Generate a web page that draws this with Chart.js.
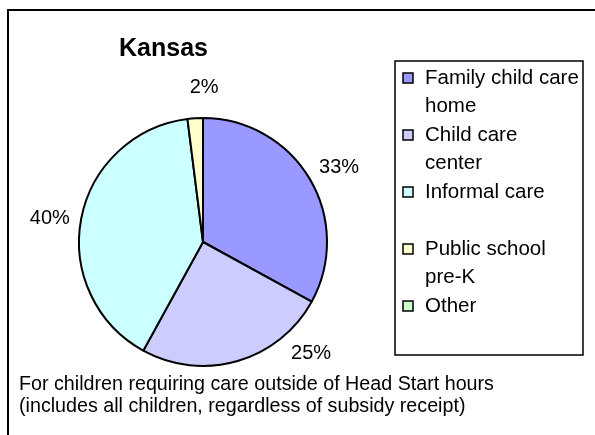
<!DOCTYPE html>
<html>
<head>
<meta charset="utf-8">
<script src="https://cdn.jsdelivr.net/npm/chart.js@4"></script>
<style>
  html, body { margin: 0; padding: 0; background: #fff; }
  canvas { display: block; }
</style>
</head>
<body>
<canvas id="chart" width="595" height="435"></canvas>
<script>
// data
const categories = ['Family child care home', 'Child care center', 'Informal care', 'Public school pre-K', 'Other'];
const shares = [33, 25, 40, 2, 0];
const colors = ['#9999FF', '#CCCCFF', '#CCFFFF', '#FFFFCC', '#CCFFCC'];
// legend text wrapped like the original
const legendLines = [['Family child care', 'home'], ['Child care', 'center'], ['Informal care'], ['Public school', 'pre-K'], ['Other']];
const chartTitle = 'Kansas';
const footnote = ['For children requiring care outside of Head Start hours', '(includes all children, regardless of subsidy receipt)'];

const FONT = '"Liberation Sans", Arial, sans-serif';
// label angle nudges (deg), mimics Excel best-fit placement
const labelNudge = [2, -28, -2, 4, 0];

const decorPlugin = {
    id: 'decor',
    afterDraw(chart) {
        const ctx = chart.ctx;
        ctx.save();

        // outer frame (left + top only, rest is cropped)
        ctx.strokeStyle = '#000';
        ctx.lineWidth = 2;
        ctx.beginPath();
        ctx.moveTo(8, 435);
        ctx.lineTo(8, 10);
        ctx.lineTo(595, 10);
        ctx.stroke();

        // title
        ctx.fillStyle = '#000';
        ctx.font = 'bold 25px ' + FONT;
        ctx.textAlign = 'left';
        ctx.textBaseline = 'middle';
        ctx.fillText(chartTitle, 119, 49);

        // percentage labels
        const meta = chart.getDatasetMeta(0);
        ctx.font = '20px ' + FONT;
        ctx.textAlign = 'center';
        meta.data.forEach((arc, i) => {
            const v = shares[i];
            if (!v) return;
            const p = arc.getProps(['x', 'y', 'startAngle', 'endAngle', 'outerRadius'], true);
            const mid = (p.startAngle + p.endAngle) / 2 + labelNudge[i] * Math.PI / 180;
            const r = p.outerRadius + 31;
            ctx.fillText(v + '%', p.x + Math.cos(mid) * r, p.y + Math.sin(mid) * r);
        });

        // legend box
        ctx.lineWidth = 1.5;
        ctx.strokeRect(395, 61, 188, 294);
        ctx.textAlign = 'left';
        ctx.font = '20.5px ' + FONT;
        const lineH = 28.5;
        let y = 78;
        categories.forEach((c, i) => {
            ctx.fillStyle = colors[i];
            ctx.fillRect(403, y - 5, 10, 10);
            ctx.lineWidth = 1.5;
            ctx.strokeStyle = '#000';
            ctx.strokeRect(403, y - 5, 10, 10);
            ctx.fillStyle = '#000';
            legendLines[i].forEach((t, j) => {
                ctx.fillText(t, 425, y + j * lineH);
            });
            y += lineH * 2;
        });

        // footnote
        ctx.font = '19.7px ' + FONT;
        footnote.forEach((t, j) => {
            ctx.fillText(t, 19, 385 + j * 22);
        });

        ctx.restore();
    }
};

const ctx = document.getElementById('chart').getContext('2d');
new Chart(ctx, {
    type: 'pie',
    data: {
        labels: categories,
        datasets: [{
            data: shares,
            backgroundColor: colors,
            borderColor: '#000',
            borderWidth: 2,
            borderAlign: 'center'
        }]
    },
    options: {
        responsive: false,
        animation: false,
        layout: {
            padding: { left: 78, top: 117, right: 267, bottom: 68 }
        },
        plugins: {
            legend: { display: false },
            tooltip: { enabled: false }
        }
    },
    plugins: [decorPlugin]
});
</script>
</body>
</html>
